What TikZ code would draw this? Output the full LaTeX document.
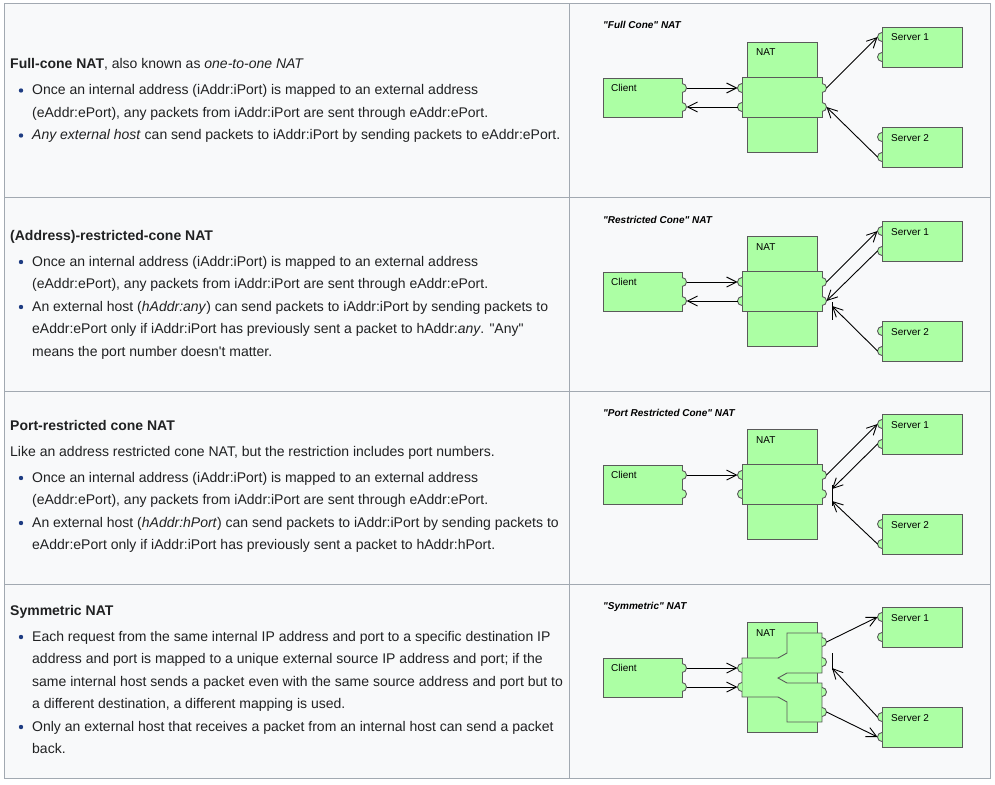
\documentclass[tikz,border=0pt]{standalone}
\usepackage{fontspec}
\setmainfont{Liberation Sans}
\newfontfamily\wikifont{Liberation Sans}
\usetikzlibrary{arrows.meta}
\definecolor{cellbg}{RGB}{248,249,250}
\definecolor{cellrule}{RGB}{162,169,177}
\definecolor{natgreen}{RGB}{172,255,164}
\definecolor{natline}{RGB}{90,90,90}
\definecolor{bulletblue}{RGB}{30,60,130}
\definecolor{txt}{RGB}{32,33,34}

% half-round ports: name, x, y
\newcommand{\portR}[3]{\draw[port] (#2,#3) ++(0,-4.5) arc (-90:90:4.5); \path (#2,#3) ++(4.5,0) coordinate (#1);}
\newcommand{\portL}[3]{\draw[port] (#2,#3) ++(0,-4.5) arc (270:90:4.5); \path (#2,#3) ++(-4.5,0) coordinate (#1);}

\begin{document}
\begin{tikzpicture}[x=1pt, y=-1pt,
    gridline/.style={draw=cellrule, line width=1pt},
    body/.style={font=\wikifont\fontsize{14}{22.5}\selectfont, text=txt, anchor=base west, inner sep=0pt},
    dtitle/.style={font=\wikifont\fontsize{10}{12}\selectfont\bfseries\itshape, anchor=base west, inner sep=0pt},
    lbl/.style={font=\wikifont\fontsize{10}{12}\selectfont, anchor=base west, inner sep=0pt},
    box/.style={draw=natline, fill=natgreen, line width=0.9pt, anchor=north west, inner sep=0pt},
    port/.style={draw=natline, fill=natgreen, line width=0.9pt},
    shell/.style={draw=natline, fill=natgreen, line width=0.9pt},
    pkt/.style={-{Straight Barb[length=10pt,width=10pt]}, line width=0.9pt},
    blockbar/.style={line width=1pt}
]
\useasboundingbox (0,0) rectangle (995,784);

% Table
\fill[cellbg] (4,4) rectangle (990,778);
\draw[gridline] (4,4) rectangle (990,778);
\foreach \yy in {197,391,584} {
    \draw[gridline] (4,\yy) -- (990,\yy);
}
\draw[gridline] (569,4) -- (569,778);

% Row 1 text
\node[body] (r1t) at (10,68.5) {\textbf{Full-cone NAT}, also known as \textit{one-to-one NAT}};
\node[body] (r1a) at (32,94.5) {Once an internal address (iAddr:iPort) is mapped to an external address};
\node[body] (r1b) at (32,117) {(eAddr:ePort), any packets from iAddr:iPort are sent through eAddr:ePort.};
\node[body] (r1c) at (32,139.5) {\textit{Any external host} can send packets to iAddr:iPort by sending packets to eAddr:ePort.};
\fill[bulletblue] (21,90.5) circle (2.2);
\fill[bulletblue] (21,135.5) circle (2.2);

% Row 2 text
\node[body] (r2t) at (10,240) {\textbf{(Address)-restricted-cone NAT}};
\node[body] (r2a) at (32,266) {Once an internal address (iAddr:iPort) is mapped to an external address};
\node[body] (r2b) at (32,288.5) {(eAddr:ePort), any packets from iAddr:iPort are sent through eAddr:ePort.};
\node[body] (r2c) at (32,311) {An external host (\textit{hAddr:any}) can send packets to iAddr:iPort by sending packets to};
\node[body] (r2d) at (32,333.5) {eAddr:ePort only if iAddr:iPort has previously sent a packet to hAddr:\textit{any}. "Any"};
\node[body] (r2e) at (32,356) {means the port number doesn't matter.};
\fill[bulletblue] (21,262) circle (2.2);
\fill[bulletblue] (21,307) circle (2.2);

% Row 3 text
\node[body] (r3t) at (10,430) {\textbf{Port-restricted cone NAT}};
\node[body] (r3p) at (10,456) {Like an address restricted cone NAT, but the restriction includes port numbers.};
\node[body] (r3a) at (32,482) {Once an internal address (iAddr:iPort) is mapped to an external address};
\node[body] (r3b) at (32,504.5) {(eAddr:ePort), any packets from iAddr:iPort are sent through eAddr:ePort.};
\node[body] (r3c) at (32,527) {An external host (\textit{hAddr:hPort}) can send packets to iAddr:iPort by sending packets to};
\node[body] (r3d) at (32,549.5) {eAddr:ePort only if iAddr:iPort has previously sent a packet to hAddr:hPort.};
\fill[bulletblue] (21,478) circle (2.2);
\fill[bulletblue] (21,523) circle (2.2);

% Row 4 text
\node[body] (r4t) at (10,615) {\textbf{Symmetric NAT}};
\node[body] (r4a) at (32,641) {Each request from the same internal IP address and port to a specific destination IP};
\node[body] (r4b) at (32,663.5) {address and port is mapped to a unique external source IP address and port; if the};
\node[body] (r4c) at (32,686) {same internal host sends a packet even with the same source address and port but to};
\node[body] (r4d) at (32,708.5) {a different destination, a different mapping is used.};
\node[body] (r4e) at (32,731) {Only an external host that receives a packet from an internal host can send a packet};
\node[body] (r4f) at (32,753.5) {back.};
\fill[bulletblue] (21,637) circle (2.2);
\fill[bulletblue] (21,727) circle (2.2);

% Diagrams
\foreach \k/\dy/\ttl in {1/0/{"Full Cone" NAT}, 2/194/{"Restricted Cone" NAT}, 3/387/{"Port Restricted Cone" NAT}, 4/580/{"Symmetric" NAT}} {
\begin{scope}[shift={(0,\dy)}]
    \node[dtitle] (ttl\k) at (603,29) {\ttl};
    \node[box, minimum width=79, minimum height=39] (cli\k) at (603,78) {};
    \node[lbl] (cliT\k) at (611,91) {Client};
    \node[box, minimum width=70, minimum height=110] (nat\k) at (747,42) {};
    \node[lbl] (natT\k) at (756,56) {NAT};
    \node[box, minimum width=80, minimum height=40] (srva\k) at (882,27) {};
    \node[lbl] (srvaT\k) at (891,41) {Server 1};
    \node[box, minimum width=80, minimum height=40] (srvb\k) at (882,127) {};
    \node[lbl] (srvbT\k) at (891,141) {Server 2};
    \portR{cl\k a}{682}{88} \portR{cl\k b}{682}{107}
    \portL{sa\k a}{882}{37} \portL{sa\k b}{882}{57}
    \portL{sb\k a}{882}{137} \portL{sb\k b}{882}{157}
    \ifnum\k<4
        \node[box, minimum width=80, minimum height=40] (map\k) at (742,77) {};
        \portL{nl\k a}{742}{88} \portL{nl\k b}{742}{107}
        \portR{nr\k a}{822}{88} \portR{nr\k b}{822}{107}
    \else
        \draw[shell] (742,78) -- (778,78) -- (787,73) -- (787,53) -- (822,53) -- (822,93)
            -- (787,93) -- (778,98) -- (787,103) -- (822,103) -- (822,142) -- (787,142)
            -- (787,122) -- (778,117) -- (742,117) -- cycle;
        \portL{nl\k a}{742}{88} \portL{nl\k b}{742}{107}
        \portR{nr\k a}{822}{62} \portR{nr\k b}{822}{82}
        \portR{nr\k c}{822}{112} \portR{nr\k d}{822}{132}
    \fi
\end{scope}
}

% Full cone
\draw[pkt] (cl1a) -- (nl1a);
\draw[pkt] (nl1b) -- (cl1b);
\draw[pkt] (nr1a) -- (sa1a);
\draw[pkt] (sb1b) -- (nr1b);

% Restricted cone
\coordinate (stop2) at (832,306);
\draw[pkt] (cl2a) -- (nl2a);
\draw[pkt] (nl2b) -- (cl2b);
\draw[pkt] (nr2a) -- (sa2a);
\draw[pkt] (sa2b) -- (nr2b);
\draw[pkt] (sb2b) -- (stop2);
\draw[blockbar] (832,302) -- (832,320);

% Port restricted cone
\coordinate (stop3a) at (832,489);
\coordinate (stop3b) at (832,501);
\draw[pkt] (cl3a) -- (nl3a);
\draw[pkt] (nr3a) -- (sa3a);
\draw[pkt] (sa3b) -- (stop3a);
\draw[pkt] (sb3b) -- (stop3b);
\draw[blockbar] (832,485) -- (832,506);

% Symmetric
\coordinate (stop4) at (832,668);
\draw[pkt] (cl4a) -- (nl4a);
\draw[pkt] (cl4b) -- (nl4b);
\draw[pkt] (nr4a) -- (sa4a);
\draw[pkt] (nr4d) -- (sb4b);
\draw[pkt] (sb4a) -- (stop4);
\draw[blockbar] (832,653) -- (832,670);

\end{tikzpicture}
\end{document}
